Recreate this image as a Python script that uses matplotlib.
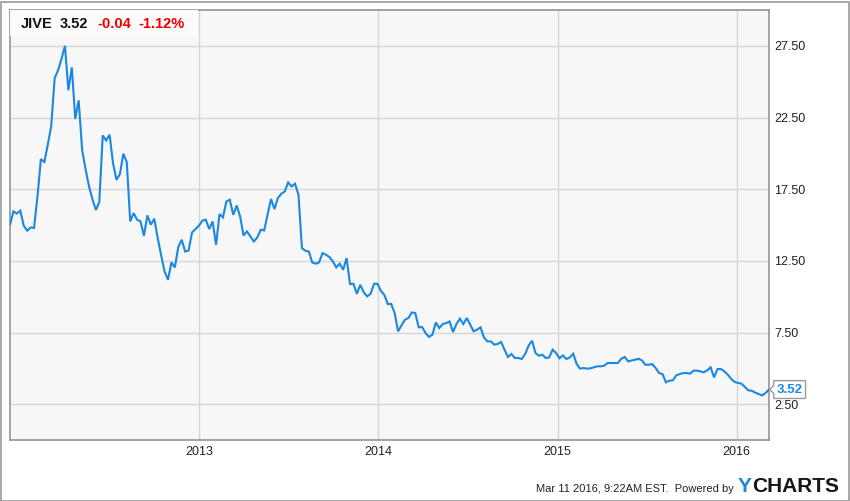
import numpy as np
import pandas as pd
import matplotlib
matplotlib.use("Agg")
import matplotlib.pyplot as plt
import matplotlib.dates as mdates
from matplotlib.patches import Rectangle
from matplotlib.path import Path

plt.rcParams['font.family'] = ['Liberation Sans', 'DejaVu Sans']

# ---- data (weekly closes) ----
ticker = "JIVE"
last_price = "3.52"
change = "-0.04"
change_pct = "-1.12%"
start_date = "2011-12-12"
prices = [
    15.02, 15.95, 15.8, 16.0, 14.95, 14.6, 14.83, 14.8, 17.0, 19.6,
    19.4, 20.6, 21.9, 25.25, 25.8, 26.6, 27.5, 24.4, 26.0, 22.4,
    23.7, 20.25, 18.9, 17.7, 16.8, 16.05, 16.6, 21.25, 20.9, 21.3,
    19.3, 18.15, 18.55, 19.97, 19.4, 15.25, 15.83, 15.37, 15.25, 14.25,
    15.67, 15.02, 15.44, 14.1, 12.9, 11.76, 11.18, 12.39, 12.04, 13.46,
    13.97, 13.15, 13.22, 14.48, 14.72, 14.95, 15.3, 15.37, 14.72, 15.25,
    13.62, 15.76, 15.53, 16.64, 16.76, 15.71, 16.36, 15.6, 14.27, 14.55,
    14.2, 13.85, 14.13, 14.67, 14.62, 15.71, 16.81, 16.11, 16.88, 17.18,
    17.34, 17.97, 17.69, 17.88, 17.1, 13.39, 13.2, 13.15, 12.39, 12.3,
    12.39, 13.04, 12.93, 12.77, 12.46, 12.04, 12.3, 11.88, 12.69, 10.88,
    10.9, 10.2, 10.83, 10.3, 10.02, 10.2, 10.9, 10.9, 10.4, 10.12,
    9.49, 9.49, 8.86, 7.58, 8.0, 8.39, 8.51, 8.9, 8.86, 7.86,
    7.88, 7.46, 7.19, 7.35, 8.2, 7.81, 8.09, 8.16, 8.27, 7.53,
    8.09, 8.46, 8.09, 8.51, 8.04, 7.58, 7.7, 7.86, 7.16, 6.88,
    6.88, 6.65, 6.7, 6.84, 6.3, 5.79, 6.0, 5.72, 5.72, 5.65,
    6.0, 6.58, 6.93, 6.07, 5.88, 5.95, 5.72, 5.76, 6.3, 6.07,
    5.7, 5.9, 5.65, 5.76, 6.02, 5.3, 4.98, 5.02, 4.98, 5.0,
    5.07, 5.14, 5.14, 5.18, 5.37, 5.37, 5.37, 5.37, 5.67, 5.79,
    5.48, 5.55, 5.6, 5.67, 5.55, 5.25, 5.25, 5.3, 5.02, 4.67,
    4.6, 4.02, 4.14, 4.16, 4.51, 4.6, 4.67, 4.67, 4.63, 4.84,
    4.84, 4.79, 4.72, 4.86, 5.07, 4.37, 4.95, 4.95, 4.79, 4.56,
    4.26, 4.05, 3.98, 3.93, 3.7, 3.46, 3.44, 3.3, 3.21, 3.11,
    3.28, 3.52,
]
y_ticks = [2.5, 7.5, 12.5, 17.5, 22.5, 27.5]
x_years = ["2013", "2014", "2015", "2016"]
footer = "Mar 11 2016, 9:22AM EST.  Powered by"

dates = pd.date_range(start_date, periods=len(prices), freq="7D")

W, H = 850, 501
fig = plt.figure(figsize=(W / 100, H / 100), dpi=100)
fig.patch.set_facecolor("white")

# outer border
fig.patches.append(Rectangle((0.5 / W, 0.5 / H), 1 - 2 / W, 1 - 2 / H, transform=fig.transFigure,
                             fill=False, ec="#9a9a9a", lw=1.2))

L, R, T, B = 10, 769, 10, 440
ax = fig.add_axes([L / W, 1 - B / H, (R - L) / W, (B - T) / H])
ax.set_facecolor("#f7f7f7")

line_color = "#1a88e0"
ax.plot(dates, prices, color=line_color, lw=1.5, solid_joinstyle="miter", zorder=3)

ax.set_xlim(dates[0], dates[-1])
ax.set_ylim(0, 30)
ax.set_yticks(y_ticks)
ax.yaxis.set_major_formatter(matplotlib.ticker.FormatStrFormatter("%.2f"))
ax.yaxis.tick_right()
ax.set_xticks([pd.Timestamp(y + "-01-01") for y in x_years])
ax.set_xticklabels(x_years)
ax.tick_params(axis="both", length=0, labelsize=9, labelcolor="#222222")
ax.tick_params(axis="y", pad=4)
ax.tick_params(axis="x", pad=4)
ax.grid(True, color="#d6d6d6", lw=1)
ax.set_axisbelow(True)
for s in ax.spines.values():
    s.set_color("#8c8c8c")
    s.set_linewidth(1.1)

# legend box top-left
ax.add_patch(Rectangle((0, 1 - 26 / (B - T)), 188 / (R - L), 26 / (B - T), transform=ax.transAxes,
                       fc="#fbfbfb", ec="none", zorder=4))
fs = 10.5
ty = 1 - 28.3 / H
fig.text(21 / W, ty, ticker, fontsize=fs, fontweight="bold", color="#111111", va="baseline")
fig.text(60 / W, ty, last_price, fontsize=fs, fontweight="bold", color="#111111", va="baseline")
fig.text(97 / W, ty, change, fontsize=fs, fontweight="bold", color="#ee0000", va="baseline")
fig.text(138 / W, ty, change_pct, fontsize=fs, fontweight="bold", color="#ee0000", va="baseline")


# last value callout
def callout(x0, y0, width, height, mutation_size):
    pad = 0.22 * mutation_size
    x0 -= pad
    y0 -= pad
    x1 = x0 + width + 2 * pad
    y1 = y0 + height + 2 * pad
    ym = (y0 + y1) / 2
    tip = 0.3 * mutation_size
    verts = [(x0, y0), (x1, y0), (x1, y1), (x0, y1), (x0, ym + tip), (x0 - tip, ym),
             (x0, ym - tip), (x0, y0)]
    return Path(verts, [Path.MOVETO] + [Path.LINETO] * 6 + [Path.CLOSEPOLY])


ax.annotate(f"{prices[-1]:.2f}", xy=(1, prices[-1]), xycoords=("axes fraction", "data"),
            xytext=(5.5, 0), textcoords="offset points", ha="left", va="center",
            fontsize=9.5, fontweight="bold", color=line_color, annotation_clip=False,
            bbox=dict(boxstyle=callout, fc="white", ec="#9a9a9a", lw=1), zorder=6)

# footer
fig.text(734 / W, 1 - 492 / H, footer, fontsize=8, color="#222222", ha="right", va="baseline")
ytxt = fig.text(738 / W, 1 - 492.5 / H, "Y", fontsize=15, fontweight="bold", color="#1a8ad8",
                va="baseline")
fig.canvas.draw()
ax.annotate("CHARTS", xy=(1, 0), xycoords=ytxt, xytext=(0.2, 0), textcoords="offset points",
            fontsize=15, fontweight="bold", color="#161616", ha="left", va="bottom")

fig.savefig("out.png", dpi=100, facecolor="white")
